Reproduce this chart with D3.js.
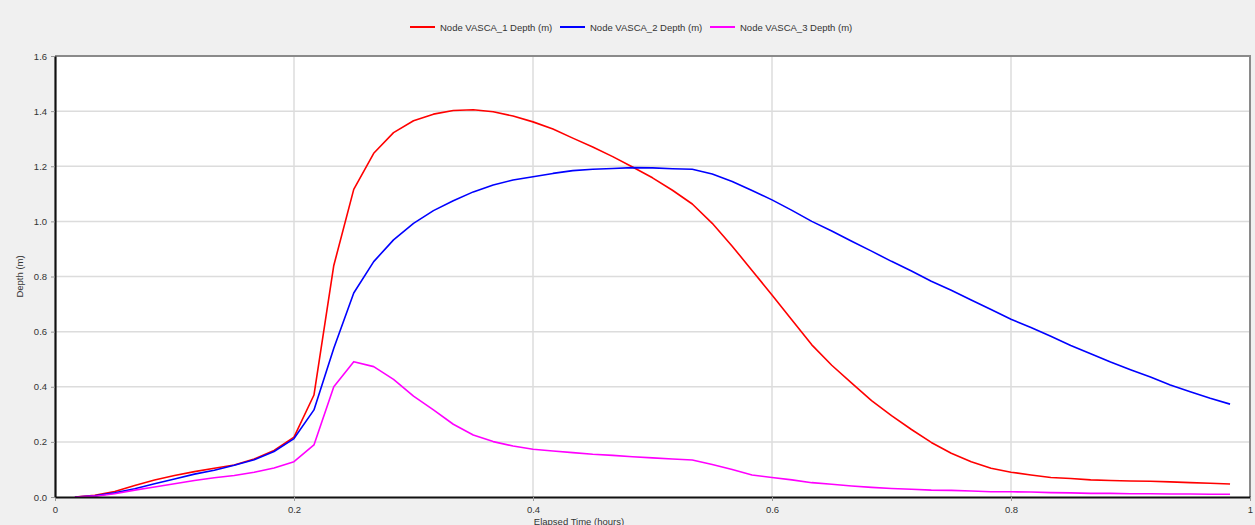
<!DOCTYPE html>
<html>
<head>
<meta charset="utf-8">
<script src="https://cdn.jsdelivr.net/npm/d3@7"></script>
<style>
  html, body { margin: 0; padding: 0; background: #f0f0f0; }
  svg { display: block; }
  text { font-family: "Liberation Sans", Arial, sans-serif; }
</style>
</head>
<body>
<svg id="chart" width="1255" height="525"></svg>
<script>
// Elapsed time of each reported step (hours)
const times = [0.0167, 0.0333, 0.05, 0.0667, 0.0833, 0.1, 0.1167, 0.1333, 0.15, 0.1667,
  0.1833, 0.2, 0.2167, 0.2333, 0.25, 0.2667, 0.2833, 0.3, 0.3167, 0.3333,
  0.35, 0.3667, 0.3833, 0.4, 0.4167, 0.4333, 0.45, 0.4667, 0.4833, 0.5,
  0.5167, 0.5333, 0.55, 0.5667, 0.5833, 0.6, 0.6167, 0.6333, 0.65, 0.6667,
  0.6833, 0.7, 0.7167, 0.7333, 0.75, 0.7667, 0.7833, 0.8, 0.8167, 0.8333,
  0.85, 0.8667, 0.8833, 0.9, 0.9167, 0.9333, 0.95, 0.9667, 0.9833];

// Node depths (m)
const vasca1 = [0.0, 0.006, 0.02, 0.042, 0.062, 0.078, 0.092, 0.104, 0.116, 0.138,
  0.169, 0.217, 0.37, 0.84, 1.116, 1.247, 1.322, 1.365, 1.389, 1.402,
  1.405, 1.398, 1.382, 1.361, 1.335, 1.302, 1.27, 1.235, 1.197, 1.158,
  1.113, 1.063, 0.993, 0.91, 0.822, 0.733, 0.642, 0.552, 0.478, 0.413,
  0.35, 0.295, 0.245, 0.198, 0.159, 0.128, 0.104, 0.09, 0.08, 0.071,
  0.067, 0.062, 0.06, 0.058, 0.057, 0.055, 0.052, 0.05, 0.047];

const vasca2 = [0.0, 0.004, 0.015, 0.03, 0.048, 0.065, 0.083, 0.097, 0.115, 0.135,
  0.165, 0.212, 0.316, 0.54, 0.74, 0.854, 0.933, 0.993, 1.039, 1.075,
  1.107, 1.132, 1.15, 1.162, 1.174, 1.184, 1.189, 1.192, 1.195, 1.194,
  1.191, 1.189, 1.172, 1.145, 1.112, 1.078, 1.04, 1.0, 0.965, 0.928,
  0.892, 0.855, 0.82, 0.783, 0.75, 0.715, 0.68, 0.645, 0.615, 0.583,
  0.55, 0.52, 0.49, 0.462, 0.435, 0.406, 0.382, 0.358, 0.337];

const vasca3 = [0.0, 0.003, 0.012, 0.025, 0.036, 0.048, 0.06, 0.07, 0.078, 0.09,
  0.105, 0.128, 0.189, 0.40, 0.491, 0.473, 0.427, 0.366, 0.316, 0.264,
  0.225, 0.201, 0.185, 0.173, 0.167, 0.161, 0.155, 0.151, 0.146, 0.142,
  0.138, 0.134, 0.118, 0.1, 0.08, 0.071, 0.062, 0.052, 0.046, 0.04,
  0.035, 0.031, 0.028, 0.025, 0.024, 0.022, 0.019, 0.019, 0.018, 0.016,
  0.015, 0.013, 0.013, 0.012, 0.012, 0.011, 0.011, 0.01, 0.01];

const seriesNames = ["Node VASCA_1 Depth (m)", "Node VASCA_2 Depth (m)", "Node VASCA_3 Depth (m)"];
const seriesColors = ["#ff0000", "#0000ff", "#ff00ff"];
const xTicks = [0, 0.2, 0.4, 0.6, 0.8, 1];
const yTicks = [0, 0.2, 0.4, 0.6, 0.8, 1.0, 1.2, 1.4, 1.6];

const svg = d3.select("#chart");
const margin = { left: 55, right: 5, top: 56, bottom: 28 };
const width = 1255, height = 525;

const x = d3.scaleLinear().domain([0, 1]).range([margin.left, width - margin.right]);
const y = d3.scaleLinear().domain([0, 1.6]).range([height - margin.bottom, margin.top]);

// plot background
svg.append("rect")
  .attr("x", x(0)).attr("y", y(1.6))
  .attr("width", x(1) - x(0)).attr("height", y(0) - y(1.6))
  .attr("fill", "#ffffff");

// gridlines
svg.append("g").selectAll("line")
  .data(yTicks.filter(d => d > 0 && d < 1.6))
  .join("line")
  .attr("x1", x(0)).attr("x2", x(1))
  .attr("y1", d => y(d)).attr("y2", d => y(d))
  .attr("stroke", "#dcdcdc").attr("stroke-width", 1.5);

svg.append("g").selectAll("line")
  .data(xTicks.filter(d => d > 0 && d < 1))
  .join("line")
  .attr("x1", d => x(d)).attr("x2", d => x(d))
  .attr("y1", y(0)).attr("y2", y(1.6))
  .attr("stroke", "#dcdcdc").attr("stroke-width", 1.5);

// top and right frame
svg.append("path")
  .attr("d", `M${x(0)},${y(1.6)}H${x(1)}V${y(0)}`)
  .attr("fill", "none").attr("stroke", "#8a8a8a").attr("stroke-width", 2);

// series lines
const allSeries = [vasca1, vasca2, vasca3];
const line = d3.line().x((d, i) => x(times[i])).y(d => y(d));
svg.append("g").selectAll("path")
  .data(allSeries)
  .join("path")
  .attr("d", d => line(d))
  .attr("fill", "none")
  .attr("stroke", (d, i) => seriesColors[i])
  .attr("stroke-width", 1.6)
  .attr("stroke-linejoin", "round");

// axes
const xAxis = d3.axisBottom(x).tickValues(xTicks)
  .tickFormat(d => d === 0 || d === 1 ? d3.format("d")(d) : d3.format(".1f")(d))
  .tickSize(4).tickSizeOuter(0);
const yAxis = d3.axisLeft(y).tickValues(yTicks).tickFormat(d3.format(".1f"))
  .tickSize(4).tickSizeOuter(0);

const gx = svg.append("g").attr("transform", `translate(0,${y(0)})`).call(xAxis);
const gy = svg.append("g").attr("transform", `translate(${x(0)},0)`).call(yAxis);

[gx, gy].forEach(g => {
  g.select(".domain").attr("stroke", "#111").attr("stroke-width", 2.2);
  g.selectAll(".tick line").attr("stroke", "#999");
  g.selectAll(".tick text").attr("fill", "#333").attr("font-size", 9.5)
    .attr("font-family", "'Liberation Sans', Arial, sans-serif");
});
gx.selectAll(".tick text").attr("dy", "0.95em");
gy.selectAll(".tick text").attr("dx", "-0.1em");

// axis titles
svg.append("text")
  .attr("x", 579).attr("y", 524.5)
  .attr("text-anchor", "middle").attr("font-size", 9.5).attr("fill", "#333")
  .text("Elapsed Time (hours)");

svg.append("text")
  .attr("transform", `translate(23,${(y(0) + y(1.6)) / 2}) rotate(-90)`)
  .attr("text-anchor", "middle").attr("font-size", 9.5).attr("fill", "#333")
  .text("Depth (m)");

// legend
const legendX = [410, 560, 710];
const legend = svg.append("g").selectAll("g")
  .data(seriesNames)
  .join("g")
  .attr("transform", (d, i) => `translate(${legendX[i]},27)`);
legend.append("line")
  .attr("x1", 0).attr("x2", 25).attr("y1", 0).attr("y2", 0)
  .attr("stroke", (d, i) => seriesColors[i]).attr("stroke-width", 2);
legend.append("text")
  .attr("x", 30).attr("y", 3.5)
  .attr("font-size", 9.5).attr("fill", "#333")
  .text(d => d);
</script>
</body>
</html>
